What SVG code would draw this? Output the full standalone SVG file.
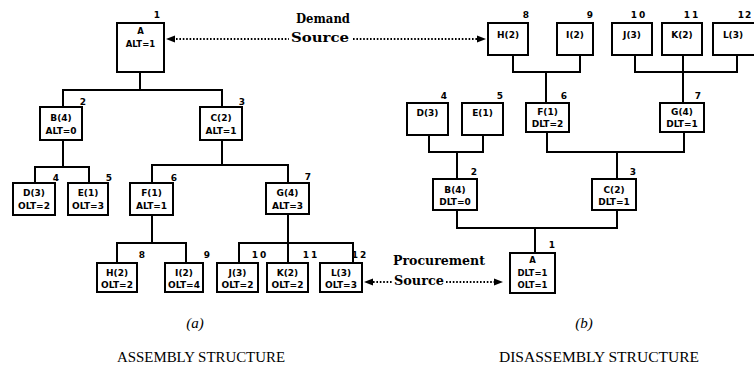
<svg xmlns="http://www.w3.org/2000/svg" width="754" height="369" viewBox="0 0 754 369">
  <defs>
    <style>
      .box { fill: #fff; stroke: #000; stroke-width: 2; }
      .wire { fill: none; stroke: #000; stroke-width: 2; stroke-linecap: square; }
      .dots { fill: none; stroke: #000; stroke-width: 2; stroke-dasharray: 1.6 1.8; }
      .head { fill: #000; }
      .t { font-family: "DejaVu Sans", "Liberation Sans", sans-serif; font-weight: bold; font-size: 9px; text-anchor: middle; fill: #000; }
      .ts { font-family: "DejaVu Sans", "Liberation Sans", sans-serif; font-weight: bold; font-size: 8.5px; text-anchor: middle; fill: #000; }
      .num { font-family: "DejaVu Sans", "Liberation Sans", sans-serif; font-weight: bold; font-size: 9px; text-anchor: middle; fill: #000; letter-spacing: 2px; }
      .lbl { font-family: "DejaVu Serif", "Liberation Serif", serif; font-weight: bold; font-size: 12.5px; fill: #000; }
      .cap { font-family: "Liberation Serif", "DejaVu Serif", serif; font-style: italic; font-size: 15px; text-anchor: middle; fill: #000; }
      .title { font-family: "Liberation Serif", "DejaVu Serif", serif; font-size: 14px; fill: #000; }
    </style>
  </defs>

  <!-- connectors -->
  <g id="connectors">
    <!-- assembly tree -->
    <path class="wire" d="M140,72 V90 M63,90 H222 M63,90 V107 M222,90 V107"/>
    <path class="wire" d="M63,140 V167 M35,167 H89 M35,167 V183 M89,167 V183"/>
    <path class="wire" d="M222,140 V165 M152,165 H288 M152,165 V183 M288,165 V183"/>
    <path class="wire" d="M152,215 V243 M117,243 H186 M117,243 V263 M186,243 V263"/>
    <path class="wire" d="M288,214 V243 M239,243 H353 M239,243 V263 M288,243 V263 M353,243 V263"/>
    <!-- disassembly tree -->
    <path class="wire" d="M513,55 V72 M513,72 H580 M580,55 V72 M546,72 V103"/>
    <path class="wire" d="M635,55 V72 M635,72 H737 M737,55 V72 M683,55 V103"/>
    <path class="wire" d="M429,135 V152 M429,152 H483 M483,135 V152 M457,152 V179"/>
    <path class="wire" d="M547,132 V152 M547,152 H684 M684,132 V152 M617,152 V179"/>
    <path class="wire" d="M457,210 V228 M457,228 H617 M617,210 V228 M535,228 V258"/>
    <!-- demand source links -->
    <path class="dots" d="M176,39 H289"/>
    <path class="head" d="M175,35.5 L166,39 L175,42.5 Z"/>
    <path class="dots" d="M353,39 H478"/>
    <path class="head" d="M477,35.5 L486,39 L477,42.5 Z"/>
    <!-- procurement source links -->
    <path class="dots" d="M373,282 H392"/>
    <path class="head" d="M373,278.5 L364,282 L373,285.5 Z"/>
    <path class="dots" d="M446,282 H495"/>
    <path class="head" d="M494,278.5 L503,282 L494,285.5 Z"/>
  </g>

  <!-- link labels -->
  <g id="demand-source">
    <text class="lbl" x="296" y="23" textLength="54" lengthAdjust="spacingAndGlyphs">Demand</text>
    <text class="lbl" x="291" y="42" textLength="58" lengthAdjust="spacingAndGlyphs">Source</text>
  </g>
  <g id="procurement-source">
    <text class="lbl" x="393" y="265" textLength="92" lengthAdjust="spacingAndGlyphs">Procurement</text>
    <text class="lbl" x="394" y="285" textLength="50" lengthAdjust="spacingAndGlyphs">Source</text>
  </g>

  <!-- assembly structure nodes -->
  <g id="a-A">
    <rect class="box" x="117" y="23" width="47" height="49"/>
    <text class="ts" x="140.5" y="34">A</text>
    <text class="ts" x="140.5" y="47">ALT=1</text>
    <text class="num" x="158" y="18">1</text>
  </g>
  <g id="a-B">
    <rect class="box" x="40" y="107" width="42" height="33"/>
    <text class="t" x="61" y="121">B(4)</text>
    <text class="t" x="61" y="134">ALT=0</text>
    <text class="num" x="84" y="105">2</text>
  </g>
  <g id="a-C">
    <rect class="box" x="200" y="107" width="42" height="33"/>
    <text class="t" x="221" y="121">C(2)</text>
    <text class="t" x="221" y="134">ALT=1</text>
    <text class="num" x="243" y="105">3</text>
  </g>
  <g id="a-D">
    <rect class="box" x="13" y="183" width="42" height="32"/>
    <text class="t" x="34" y="196">D(3)</text>
    <text class="t" x="34" y="209">OLT=2</text>
    <text class="num" x="57" y="181">4</text>
  </g>
  <g id="a-E">
    <rect class="box" x="68" y="183" width="40" height="32"/>
    <text class="t" x="88" y="196">E(1)</text>
    <text class="t" x="88" y="209">OLT=3</text>
    <text class="num" x="110" y="181">5</text>
  </g>
  <g id="a-F">
    <rect class="box" x="130" y="183" width="43" height="32"/>
    <text class="t" x="151.5" y="196">F(1)</text>
    <text class="t" x="151.5" y="209">ALT=1</text>
    <text class="num" x="175" y="181">6</text>
  </g>
  <g id="a-G">
    <rect class="box" x="266" y="183" width="43" height="31"/>
    <text class="t" x="287.5" y="196">G(4)</text>
    <text class="t" x="287.5" y="209">ALT=3</text>
    <text class="num" x="309" y="180">7</text>
  </g>
  <g id="a-H">
    <rect class="box" x="97" y="263" width="40" height="29"/>
    <text class="t" x="117" y="276">H(2)</text>
    <text class="t" x="117" y="288">OLT=2</text>
    <text class="num" x="143" y="258">8</text>
  </g>
  <g id="a-I">
    <rect class="box" x="165" y="263" width="38" height="29"/>
    <text class="t" x="184" y="276">I(2)</text>
    <text class="t" x="184" y="288">OLT=4</text>
    <text class="num" x="208" y="258">9</text>
  </g>
  <g id="a-J">
    <rect class="box" x="217" y="263" width="41" height="29"/>
    <text class="t" x="237.5" y="276">J(3)</text>
    <text class="t" x="237.5" y="288">OLT=2</text>
    <text class="num" x="260" y="258">10</text>
  </g>
  <g id="a-K">
    <rect class="box" x="267" y="263" width="41" height="29"/>
    <text class="t" x="287.5" y="276">K(2)</text>
    <text class="t" x="287.5" y="288">OLT=2</text>
    <text class="num" x="311" y="258">11</text>
  </g>
  <g id="a-L">
    <rect class="box" x="320" y="263" width="42" height="29"/>
    <text class="t" x="341" y="276">L(3)</text>
    <text class="t" x="341" y="288">OLT=3</text>
    <text class="num" x="360" y="258">12</text>
  </g>

  <!-- disassembly structure nodes -->
  <g id="d-H">
    <rect class="box" x="488" y="23" width="40" height="32"/>
    <text class="t" x="508" y="38">H(2)</text>
    <text class="num" x="527" y="18">8</text>
  </g>
  <g id="d-I">
    <rect class="box" x="557" y="23" width="36" height="32"/>
    <text class="t" x="575" y="38">I(2)</text>
    <text class="num" x="591" y="18">9</text>
  </g>
  <g id="d-J">
    <rect class="box" x="612" y="23" width="40" height="32"/>
    <text class="t" x="632" y="38">J(3)</text>
    <text class="num" x="639" y="18">10</text>
  </g>
  <g id="d-K">
    <rect class="box" x="662" y="23" width="40" height="32"/>
    <text class="t" x="682" y="38">K(2)</text>
    <text class="num" x="692" y="18">11</text>
  </g>
  <g id="d-L">
    <rect class="box" x="713" y="23" width="44" height="32"/>
    <text class="t" x="733" y="38">L(3)</text>
    <text class="num" x="745" y="18" style="letter-spacing:1px">12</text>
  </g>
  <g id="d-D">
    <rect class="box" x="407" y="103" width="41" height="32"/>
    <text class="t" x="427.5" y="116">D(3)</text>
    <text class="num" x="445" y="99">4</text>
  </g>
  <g id="d-E">
    <rect class="box" x="462" y="103" width="41" height="32"/>
    <text class="t" x="482.5" y="116">E(1)</text>
    <text class="num" x="501" y="99">5</text>
  </g>
  <g id="d-F">
    <rect class="box" x="526" y="103" width="43" height="29"/>
    <text class="t" x="547.5" y="115">F(1)</text>
    <text class="t" x="547.5" y="127">DLT=2</text>
    <text class="num" x="565" y="99">6</text>
  </g>
  <g id="d-G">
    <rect class="box" x="660" y="103" width="44" height="29"/>
    <text class="t" x="682" y="115">G(4)</text>
    <text class="t" x="682" y="127">DLT=1</text>
    <text class="num" x="699" y="99">7</text>
  </g>
  <g id="d-B">
    <rect class="box" x="433" y="179" width="44" height="31"/>
    <text class="t" x="455" y="193">B(4)</text>
    <text class="t" x="455" y="205">DLT=0</text>
    <text class="num" x="475" y="175">2</text>
  </g>
  <g id="d-C">
    <rect class="box" x="592" y="179" width="44" height="31"/>
    <text class="t" x="614" y="193">C(2)</text>
    <text class="t" x="614" y="205">DLT=1</text>
    <text class="num" x="634" y="175">3</text>
  </g>
  <g id="d-A">
    <rect class="box" x="510" y="253" width="45" height="40"/>
    <text class="ts" x="532.5" y="263">A</text>
    <text class="ts" x="532.5" y="276">DLT=1</text>
    <text class="ts" x="532.5" y="288">OLT=1</text>
    <text class="num" x="553" y="248">1</text>
  </g>

  <!-- captions -->
  <g id="captions">
    <text class="cap" x="195" y="328">(a)</text>
    <text class="cap" x="584" y="328">(b)</text>
    <text class="title" x="117" y="362" textLength="168" lengthAdjust="spacingAndGlyphs">ASSEMBLY  STRUCTURE</text>
    <text class="title" x="499" y="362" textLength="200" lengthAdjust="spacingAndGlyphs">DISASSEMBLY  STRUCTURE</text>
  </g>
</svg>
